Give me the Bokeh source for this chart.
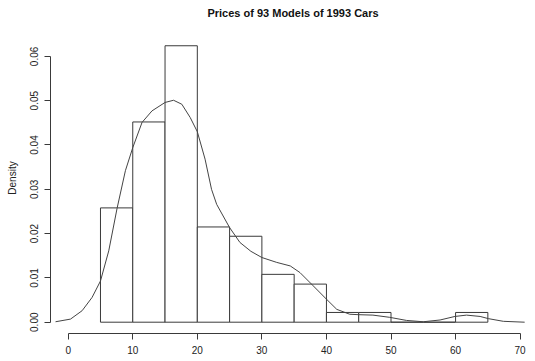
from bokeh.plotting import figure
from bokeh.models import FixedTicker, NumeralTickFormatter, Range1d
from bokeh.embed import file_html
from bokeh.resources import INLINE

# Histogram of prices (density scale)
bin_left = [5, 10, 15, 20, 25, 30, 35, 40, 45, 50, 55, 60]
bin_right = [10, 15, 20, 25, 30, 35, 40, 45, 50, 55, 60, 65]
density = [0.0258, 0.0452, 0.0624, 0.0215, 0.0194, 0.0108, 0.0086,
           0.0022, 0.0022, 0.0, 0.0, 0.0022]

# Kernel density curve
curve_x = [-1.96, 0.36, 2.16, 3.7, 5.0, 6.28, 7.57, 8.86, 10.0, 11.44, 12.98,
           15.0, 16.32, 17.6, 18.9, 20.0, 21.2, 22.2, 23.0, 24.98, 26.6, 28.3,
           30.0, 32.3, 34.4, 35.9, 37.96, 40.0, 41.6, 43.6, 44.9, 47.2, 49.8,
           52.4, 55.0, 57.6, 59.9, 61.7, 63.8, 65.1, 67.4, 70.7]
curve_y = [0.0001, 0.0007, 0.0026, 0.0056, 0.0093, 0.0161, 0.0257, 0.0342,
           0.0394, 0.0451, 0.0477, 0.0496, 0.0501, 0.0492, 0.0462, 0.0430,
           0.0368, 0.0300, 0.0266, 0.0214, 0.0180, 0.0160, 0.0146, 0.0135,
           0.0127, 0.0112, 0.0082, 0.0052, 0.0029, 0.0018, 0.0017, 0.0016,
           0.0011, 0.0004, 0.0001, 0.0005, 0.0013, 0.0016, 0.0013, 0.0008,
           0.0002, 0.0]

x_ticks = [0, 10, 20, 30, 40, 50, 60, 70]
y_ticks = [0.0, 0.01, 0.02, 0.03, 0.04, 0.05, 0.06]

FONT = "Liberation Sans"
INK = "#3a3a3a"

p = figure(width=535, height=361, output_backend="svg", toolbar_location=None,
           x_range=Range1d(-2.74, 72.38), y_range=Range1d(-0.00255, 0.06765),
           min_border_left=50, min_border_right=0, min_border_top=22,
           min_border_bottom=28, title="Prices of 93 Models of 1993 Cars")
p.outline_line_color = None
p.grid.visible = False
p.background_fill_color = "white"
p.border_fill_color = "white"

p.title.text_font = FONT
p.title.text_font_size = "11px"
p.title.text_font_style = "bold"
p.title.text_color = "#111111"
p.title.align = "center"
p.title.standoff = 7
p.title.offset = 0

p.quad(left=bin_left, right=bin_right, top=density, bottom=0,
       fill_color="white", line_color=INK, line_width=1)
p.line(curve_x, curve_y, line_color="#444444", line_width=1)

for ax in (p.xaxis[0], p.yaxis[0]):
    ax.axis_line_color = INK
    ax.major_tick_line_color = INK
    ax.minor_tick_line_color = None
    ax.major_tick_out = 6
    ax.major_tick_in = 0
    ax.major_label_text_font = FONT
    ax.major_label_text_font_size = "10px"
    ax.major_label_text_color = "#222222"
    ax.major_label_standoff = 6

p.xaxis[0].ticker = FixedTicker(ticks=x_ticks)
p.xaxis[0].bounds = (0, 70)
p.yaxis[0].ticker = FixedTicker(ticks=y_ticks)
p.yaxis[0].bounds = (0, 0.06)
p.yaxis[0].formatter = NumeralTickFormatter(format="0.00")
p.yaxis[0].major_label_orientation = "vertical"
p.yaxis[0].axis_label = "Density"
p.yaxis[0].axis_label_text_font = FONT
p.yaxis[0].axis_label_text_font_size = "10px"
p.yaxis[0].axis_label_text_font_style = "normal"
p.yaxis[0].axis_label_text_color = "#222222"
p.yaxis[0].axis_label_standoff = 10

open("out.html", "w").write(file_html(p, INLINE))
